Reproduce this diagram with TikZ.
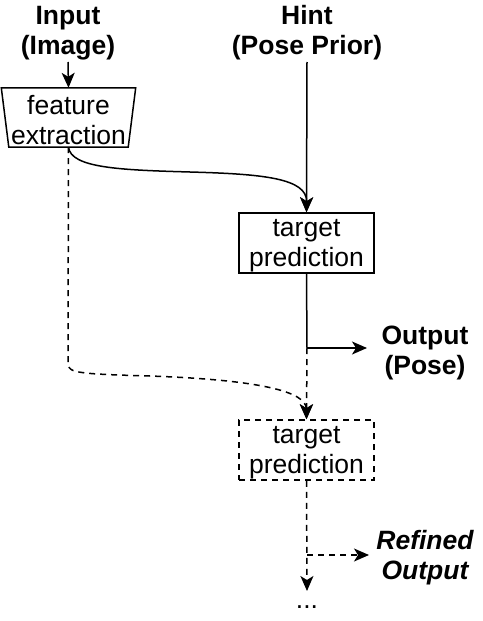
\documentclass[tikz,border=0pt]{standalone}
\usepackage{fontspec}
\setmainfont{Liberation Sans}
\usetikzlibrary{arrows.meta}
\tikzset{
  every node/.style={font=\fontsize{26.5}{30}\selectfont, align=center, inner sep=0pt},
  lbl/.style={font=\fontsize{26.5}{30}\selectfont\bfseries},
  ilbl/.style={font=\fontsize{26.5}{30}\selectfont\bfseries\itshape},
  box/.style={draw, line width=1.5pt, minimum width=135pt, minimum height=60pt},
  conn/.style={line width=1.5pt, -{Stealth[length=15pt,width=13pt,inset=4pt]}},
  plain/.style={line width=1.5pt},
  dsh/.style={dash pattern=on 6pt off 5pt}
}
\begin{document}
\begin{tikzpicture}[x=1pt,y=-1pt]
\useasboundingbox (0,0) rectangle (482,621);
% labels
\node[lbl] (inp) at (68,33) {Input\\(Image)};
\node[lbl] (hint) at (307,33) {Hint\\(Pose Prior)};
\node[lbl] (out) at (425,353) {Output\\(Pose)};
\node[ilbl] (ref) at (425,558) {Refined\\Output};
% feature extraction trapezoid
\node[minimum width=134pt, minimum height=59pt] (fe) at (68.5,117.5) {};
\node (fet) at (68.5,120) {feature\\extraction};
\draw[plain] (fe.north west) -- (fe.north east) -- ([xshift=-7.5pt]fe.south east) -- ([xshift=7.5pt]fe.south west) -- cycle;
% boxes
\node[box] (tp1) at (306.5,243) {};
\node (tp1t) at (306.5,246) {target\\prediction};
\node[box, dsh] (tp2) at (306.5,450) {};
\node (tp2t) at (306.5,453) {target\\prediction};
\node (dots) at (307,607) {...};
% coordinates
\coordinate (in1) at (68,62);
\coordinate (h1) at (307,62);
\coordinate (c1) at (307,348);
\coordinate (c2) at (307,555);
\coordinate (o1) at (367,348);
\coordinate (r1) at (369,555);
\coordinate (d1) at (307,591);
% connectors
\draw[conn] (in1) -- (fe.north);
\draw[conn] (h1) -- (tp1.north);
\draw[conn] (fe.south) .. controls (71,168) and (120,170) .. (190,172) .. controls (262,174) and (307,178) .. (tp1.north);
\draw[plain] (tp1.south) -- (c1);
\draw[conn] (c1) -- (o1);
\draw[conn, dsh] (c1) -- (tp2.north);
\draw[conn, dsh] (fe.south) -- (68,364) .. controls (68,373) and (80,374) .. (150,376) .. controls (262,380) and (306,392) .. (tp2.north);
\draw[conn, dsh] (tp2.south) -- (d1);
\draw[conn, dsh] (c2) -- (r1);
\end{tikzpicture}
\end{document}
